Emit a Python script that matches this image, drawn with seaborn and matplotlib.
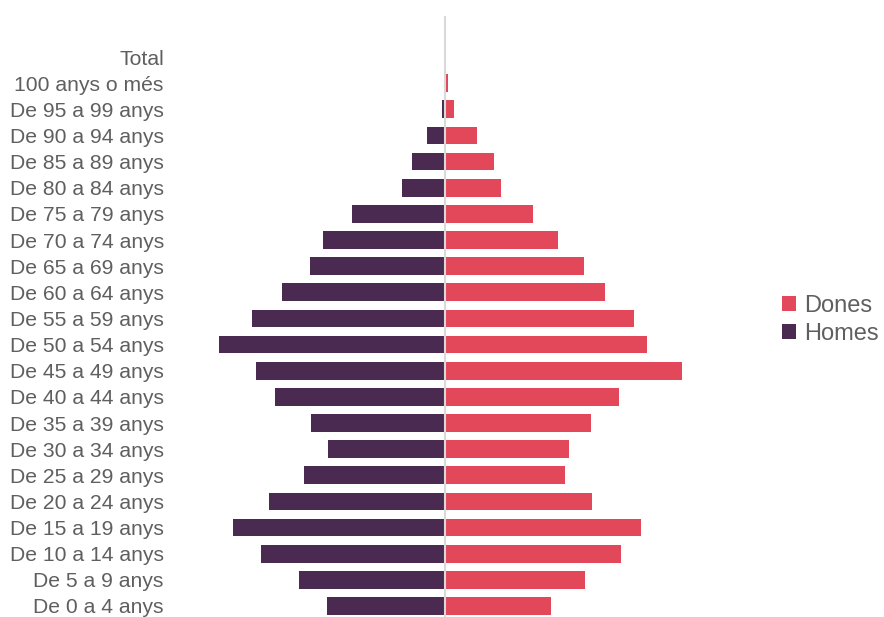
import pandas as pd
import seaborn as sns
import matplotlib.pyplot as plt

# grups d'edat, de dalt a baix
grups = ["Total", "100 anys o més", "De 95 a 99 anys", "De 90 a 94 anys", "De 85 a 89 anys",
         "De 80 a 84 anys", "De 75 a 79 anys", "De 70 a 74 anys", "De 65 a 69 anys",
         "De 60 a 64 anys", "De 55 a 59 anys", "De 50 a 54 anys", "De 45 a 49 anys",
         "De 40 a 44 anys", "De 35 a 39 anys", "De 30 a 34 anys", "De 25 a 29 anys",
         "De 20 a 24 anys", "De 15 a 19 anys", "De 10 a 14 anys", "De 5 a 9 anys",
         "De 0 a 4 anys"]

dones = [0, 3, 9, 32, 49, 56, 88, 113, 139, 160, 189, 202, 237, 174, 146, 124, 120,
         147, 196, 176, 140, 106]
homes = [0, 0, 3, 18, 33, 43, 93, 122, 135, 163, 193, 226, 189, 170, 134, 117, 141,
         176, 212, 184, 146, 118]

df = pd.DataFrame({"grup": grups, "Dones": dones, "Homes": [-h for h in homes]})

color_dones = "#e2475a"
color_homes = "#4b2a52"

sns.set_style("white")
plt.rcParams['font.family'] = ['Liberation Sans', 'DejaVu Sans']

fig = plt.figure(figsize=(8.84, 6.17), dpi=100)
ax = fig.add_axes([170 / 884, 0, 550 / 884, 601 / 617])

sns.barplot(data=df, y="grup", x="Dones", order=grups, color=color_dones,
            saturation=1, width=0.68, linewidth=0, label="Dones", ax=ax)
sns.barplot(data=df, y="grup", x="Homes", order=grups, color=color_homes,
            saturation=1, width=0.68, linewidth=0, label="Homes", ax=ax)

ax.axvline(0, color="#d9d9d9", lw=1.5, zorder=1)

ax.set_xlim(-275, 275)
ax.set_ylim(21 + 11 / 26.14, -41 / 26.14)
ax.set_xlabel("")
ax.set_ylabel("")
ax.set_xticks([])
ax.tick_params(axis="y", length=0, pad=4.5, labelsize=15.2, labelcolor="#5f5f5f")
sns.despine(ax=ax, left=True, bottom=True)

ax.legend(loc="center left", bbox_to_anchor=(770 / 884, 1 - 320 / 617),
          bbox_transform=fig.transFigure, frameon=False, fontsize=17,
          handlelength=0.58, handleheight=0.58, handletextpad=0.36,
          labelspacing=0.25, borderpad=0, labelcolor="#5f5f5f")

fig.savefig("out.png", dpi=100)
